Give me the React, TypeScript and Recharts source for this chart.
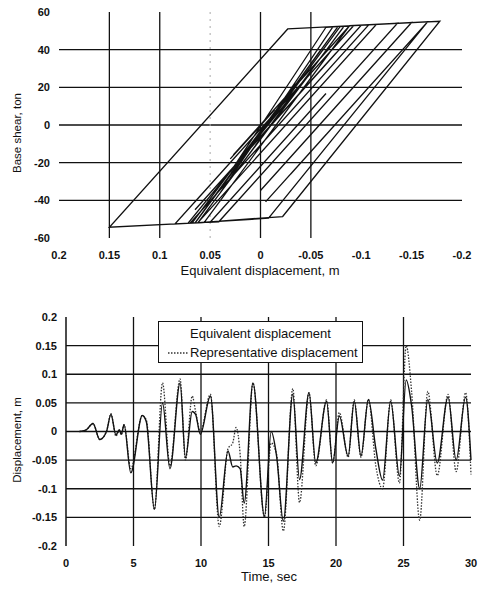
import React from 'react';
import {
  LineChart,
  Line,
  XAxis,
  YAxis,
  ReferenceLine,
  Legend,
} from 'recharts';

// hysteresis path: equivalent displacement (m) vs base shear (ton), in drawing order
const hystDisp = [
  0, 0.015, -0.014, 0.03, -0.005, 0.012, -0.075, 0.027, -0.0885, -0.136,
  0.0414, 0.05, -0.065, 0.05, 0.085, -0.05, 0.04, -0.005, 0.065, -0.0926,
  -0.166, -0.03, -0.065, -0.005, -0.165, -0.008, 0.085, -0.0924, -0.15, 0,
  -0.04, -0.15, -0.178, -0.022, 0.07, -0.1074, -0.115, 0.0624, 0.065, -0.079,
  -0.088, 0.056, 0.072, -0.05, 0.04, -0.072, -0.083, 0.062, 0.068, -0.035,
  0.03, -0.065, -0.077, 0.05, -0.06, 0.065, 0.15, -0.027, -0.1, 0.06,
  -0.075, 0.065, -0.065, 0.065, -0.075, 0.02,
];
const hystShear = [
  0, -9, 8, -18, 3, -7, 44.7, -15.9, 52.7, 54.0,
  -51.4, -51.7, 16.7, -51.6, -52.6, 27.6, -25.9, 0.8, -40.8, 52.8,
  54.8, -26.0, -5.2, -40.8, 54.2, -49.5, -52.6, 52.8, 54.4, -34.8,
  -11.0, 54.4, 55.1, -48.6, -52.2, 53.2, 53.4, -52.0, -52.1, 52.2,
  52.5, -51.8, -52.2, 28, -36, 52.2, 52.5, -51.9, -52.1, 22,
  -25, 51.9, 52.3, -41, 40, -52.0, -54.3, 51.0, 53.0, -42.0,
  38.2, -45.0, 32.2, -45.0, 38.2, -18,
];
const dispTicks = [0.2, 0.15, 0.1, 0.05, 0, -0.05, -0.1, -0.15, -0.2];
const shearTicks = [60, 40, 20, 0, -20, -40, -60];
const shearGrid = [40, 20, 0, -20, -40];
const dispGrid = [0.15, 0.1, 0, -0.05];

// time history
const times = [
  1.0, 1.5, 2.0, 2.5, 3.0, 3.33, 3.7, 3.95, 4.1, 4.3,
  4.8, 5.65, 5.95, 6.55, 7.15, 7.7, 8.45, 8.85, 9.35, 9.6,
  9.95, 10.7, 11.35, 12.0, 12.35, 12.6, 12.9, 13.2, 13.85, 14.7,
  15.2, 15.6, 16.1, 16.8, 17.3, 18.0, 18.5, 19.3, 19.75, 20.25,
  20.9, 21.35, 21.85, 22.4, 22.95, 23.45, 24.05, 24.7, 25.2, 25.6,
  26.2, 26.8, 27.5, 28.3, 28.9, 29.6, 30,
];
const equivalent = [
  0, 0.003, 0.014, -0.014, 0, 0.03, -0.006, 0.003, -0.005, 0.012,
  -0.072, 0.028, 0.017, -0.136, 0.05, -0.065, 0.085, -0.046, 0.035, 0.03,
  -0.005, 0.062, -0.15, -0.034, -0.062, -0.06, -0.065, -0.125, 0.085, -0.148,
  0.0, -0.043, -0.157, 0.065, -0.084, 0.068, -0.055, 0.053, -0.055, 0.027,
  -0.043, 0.053, -0.043, 0.056, -0.03, -0.085, 0.053, -0.078, 0.09, 0.045,
  -0.1, 0.056, -0.055, 0.06, -0.05, 0.06, -0.05,
];
const representative = [
  0, 0.003, 0.014, -0.014, 0, 0.031, -0.008, 0.002, -0.006, 0.012,
  -0.065, 0.028, 0.02, -0.136, 0.085, -0.06, 0.092, -0.05, 0.062, 0.035,
  0.0, 0.065, -0.166, -0.03, -0.02, 0.007, -0.04, -0.166, 0.085, -0.15,
  -0.02, -0.04, -0.174, 0.075, -0.124, 0.068, -0.06, 0.055, -0.055, 0.033,
  -0.045, 0.055, -0.045, 0.056, -0.06, -0.1, 0.055, -0.09, 0.15, 0.07,
  -0.155, 0.07, -0.077, 0.065, -0.07, 0.068, -0.075,
];
const timeTicks = [0, 5, 10, 15, 20, 25, 30];
const dispValTicks = [0.2, 0.15, 0.1, 0.05, 0, -0.05, -0.1, -0.15, -0.2];
const timeGrid = [5, 10, 15, 20, 25];
const dispValGrid = [0.15, 0.1, 0.05, 0, -0.05, -0.1, -0.15];

const hystData = hystDisp.map((x, i) => ({ x, shear: hystShear[i] }));
const timeData = times.map((t, i) => ({ t, eq: equivalent[i], rep: representative[i] }));

const FONT = '"Liberation Sans", Arial, sans-serif';
const tickStyle = { fontSize: 11, fill: '#111', fontWeight: 700, fontFamily: FONT };
const titleStyle = { fontSize: 13, fill: '#111', fontFamily: FONT };

const renderLegend = (props: any) => {
  const items = props.payload || [];
  return (
    <div
      style={{
        border: '1px solid #111',
        background: '#fff',
        width: 205,
        height: 42,
        boxSizing: 'border-box',
        paddingTop: 2,
        fontFamily: FONT,
        fontSize: 13,
        color: '#111',
      }}
    >
      {items.map((it: any) => (
        <div key={it.value} style={{ height: 19, display: 'flex', alignItems: 'center' }}>
          <svg width={31} height={19}>
            {it.payload && it.payload.strokeDasharray ? (
              <line x1={9} x2={29} y1={10} y2={10} stroke="#333" strokeWidth={1.3} strokeDasharray="1.5 1.5" />
            ) : null}
          </svg>
          <span>{it.value}</span>
        </div>
      ))}
    </div>
  );
};

export default function App() {
  return (
    <div style={{ position: 'absolute', left: 0, top: 0, width: 481, height: 590, background: '#fff' }}>
      <LineChart width={481} height={290} data={hystData} margin={{ top: 12, right: 19, bottom: 22, left: 19 }}>
        <XAxis
          type="number"
          dataKey="x"
          domain={[-0.2, 0.2]}
          reversed
          ticks={dispTicks}
          interval={0}
          axisLine={false}
          tickLine={false}
          tickMargin={7}
          tick={tickStyle}
          height={30}
        />
        <YAxis
          type="number"
          domain={[-60, 60]}
          ticks={shearTicks}
          interval={0}
          axisLine={false}
          tickLine={false}
          tickMargin={3}
          tick={tickStyle}
          width={40}
        />
        {shearGrid.map((v) => (
          <ReferenceLine key={'h' + v} y={v} stroke="#111" strokeWidth={1.3} />
        ))}
        <ReferenceLine x={0.05} stroke="#aaa" strokeWidth={1} strokeDasharray="2 5" />
        {dispGrid.map((v) => (
          <ReferenceLine key={'v' + v} x={v} stroke="#111" strokeWidth={1.3} />
        ))}
        <Line
          type="linear"
          dataKey="shear"
          stroke="#111"
          strokeWidth={1.3}
          dot={false}
          isAnimationActive={false}
        />
        <text x={18} y={133} transform="rotate(-90 18 133)" textAnchor="middle" dominantBaseline="middle" style={{ ...titleStyle, fontSize: 11.5 }}>
          Base shear, ton
        </text>
        <text x={260} y={272} textAnchor="middle" dominantBaseline="middle" style={titleStyle}>
          Equivalent displacement, m
        </text>
      </LineChart>
      <LineChart width={481} height={300} data={timeData} margin={{ top: 27, right: 10, bottom: 14, left: 26 }}>
        <XAxis
          type="number"
          dataKey="t"
          domain={[0, 30]}
          ticks={timeTicks}
          interval={0}
          axisLine={false}
          tickLine={false}
          tickMargin={7}
          tick={tickStyle}
          height={30}
        />
        <YAxis
          type="number"
          domain={[-0.2, 0.2]}
          ticks={dispValTicks}
          interval={0}
          axisLine={{ stroke: '#111', strokeWidth: 1.5 }}
          tickLine={false}
          tickMargin={3}
          tick={tickStyle}
          width={40}
        />
        {dispValGrid.map((v) => (
          <ReferenceLine key={'h' + v} y={v} stroke="#111" strokeWidth={1.3} />
        ))}
        {timeGrid.map((v) => (
          <ReferenceLine key={'v' + v} x={v} stroke="#111" strokeWidth={1.3} />
        ))}
        <Line
          type="monotone"
          dataKey="rep"
          name="Representative displacement"
          stroke="#333"
          strokeWidth={1.3}
          strokeDasharray="1.5 1.5"
          dot={false}
          isAnimationActive={false}
        />
        <Line
          type="monotone"
          dataKey="eq"
          name="Equivalent displacement"
          stroke="#111"
          strokeWidth={1.4}
          dot={false}
          isAnimationActive={false}
        />
        <Legend
          layout="horizontal"
          verticalAlign="middle"
          align="center"
          content={renderLegend}
          itemSorter={(item: any) => (item.dataKey === 'eq' ? 0 : 1)}
          wrapperStyle={{ left: 158, top: 31, width: 205, height: 42 }}
        />
        <text x={18} y={150} transform="rotate(-90 18 150)" textAnchor="middle" dominantBaseline="middle" style={{ ...titleStyle, fontSize: 11.5 }}>
          Displacement, m
        </text>
        <text x={269} y={288} textAnchor="middle" dominantBaseline="middle" style={titleStyle}>
          Time, sec
        </text>
      </LineChart>
    </div>
  );
}
